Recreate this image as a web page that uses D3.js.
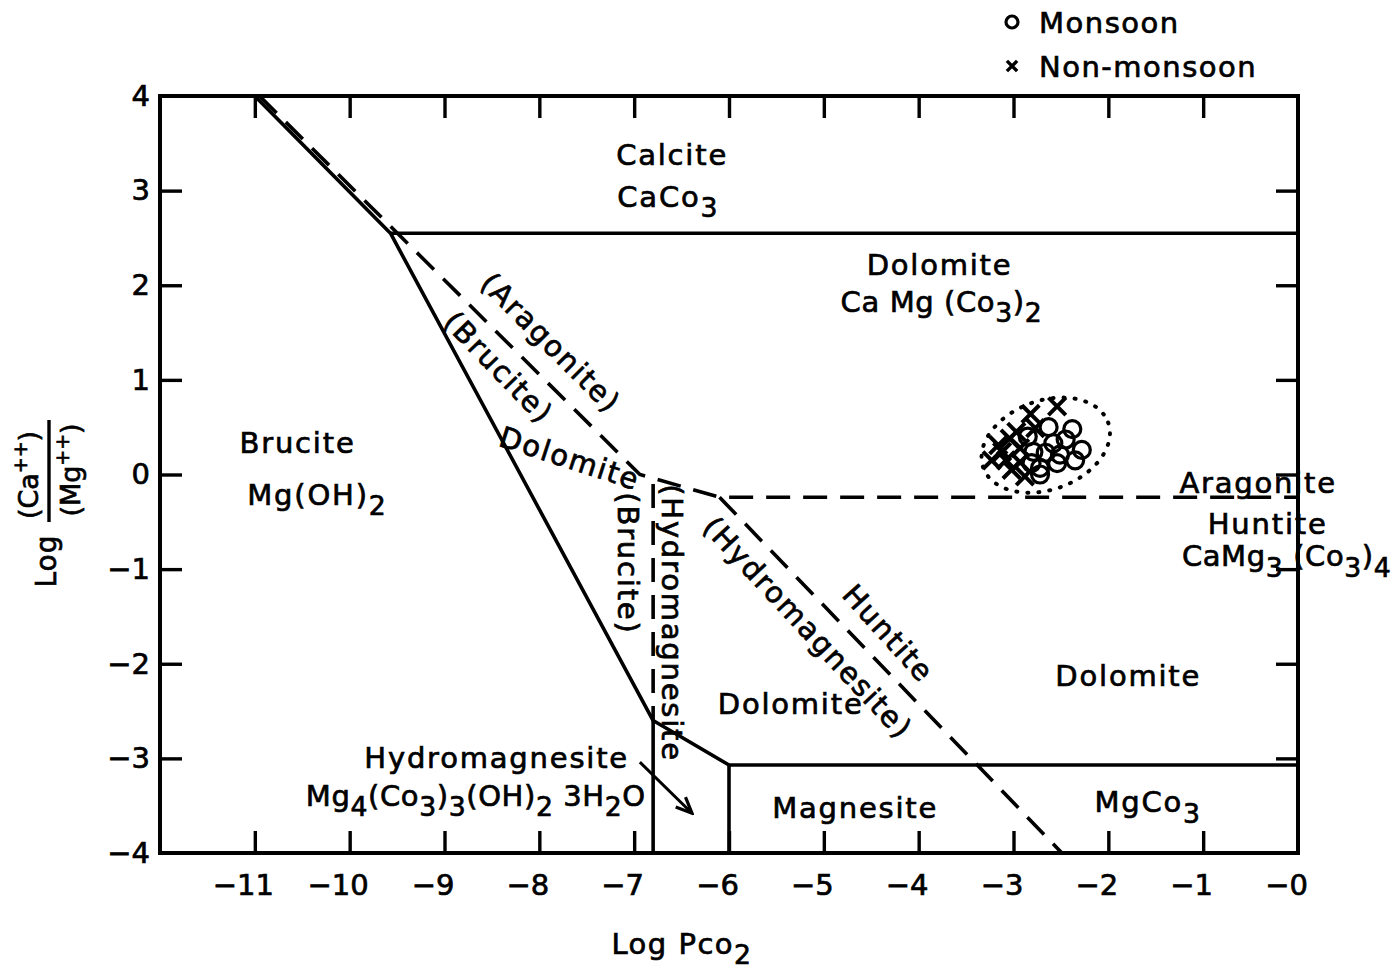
<!DOCTYPE html>
<html>
<head>
<meta charset="utf-8">
<script src="https://cdn.jsdelivr.net/npm/d3@7"></script>
<style>
  html, body { margin: 0; padding: 0; background: #fff; }
  svg text { font-family: "DejaVu Sans", sans-serif; fill: #000; stroke: #000; stroke-width: 0.7px; }
</style>
</head>
<body>
<svg id="chart" width="1398" height="971"></svg>
<script>
// ---- axis ticks ----
const xTicks = [-11, -10, -9, -8, -7, -6, -5, -4, -3, -2, -1, 0];
const xTickLabels = ["−11", "−10", "−9", "−8", "−7", "−6", "−5", "−4", "−3", "−2", "−1", "−0"];
const yTicks = [4, 3, 2, 1, 0, -1, -2, -3, -4];
const yTickLabels = ["4", "3", "2", "1", "0", "−1", "−2", "−3", "−4"];

// ---- stability field boundaries (Log Pco2, Log Ca/Mg) ----
const brucitePath = [[-11, 4], [-9.57, 2.55], [-6.8, -2.6], [-6.0, -3.07]];
const calciteDolomite = [[-9.57, 2.55], [0, 2.55]];
const dolomiteMagnesite = [[-6.0, -3.07], [0, -3.07]];
const hydromagnesiteEdge = [[-6.8, -2.6], [-6.8, -4]];
const magnesiteEdge = [[-6.0, -3.07], [-6.0, -4]];
const aragoniteDashed = [[-10.95, 4], [-6.94, 0.0], [-6.1, -0.24], [0, -0.24]];
const hydromagnesiteDashed = [[-6.8, -0.1], [-6.8, -2.6]];
const huntiteDashed = [[-6.1, -0.24], [-2.49, -4]];

// ---- samples ----
const monsoonX = [-2.63, -2.38, -2.85, -2.45, -2.58, -2.79, -2.66, -2.51, -2.28, -2.35, -2.81, -2.72, -2.54, -2.72];
const monsoonY = [0.50, 0.48, 0.40, 0.37, 0.33, 0.24, 0.23, 0.21, 0.26, 0.15, 0.12, 0.07, 0.12, 0.00];
const nonMonsoonX = [-2.54, -2.82, -2.77, -3.04, -3.16, -2.93, -3.23, -3.08, -2.93, -3.02, -2.88, -3.12, -2.97];
const nonMonsoonY = [0.72, 0.64, 0.49, 0.38, 0.31, 0.28, 0.15, 0.15, 0.13, 0.05, -0.02, 0.24, 0.45];

// envelope around the samples: centre, radii (data units), tilt
const envelopeCentre = [-2.66, 0.31];
const envelopeRadii = [0.7, 0.47];
const envelopeTilt = -20;

// ---- field labels: _{..} subscript, ^{..} superscript ----
const fieldLabels = [
  { text: "Calcite", at: [-6.60, 3.27] },
  { text: "CaCo_{3}", at: [-6.64, 2.83] },
  { text: "Dolomite", at: [-3.78, 2.11] },
  { text: "Ca Mg (Co_{3})_{2}", at: [-3.76, 1.72], tight: true },
  { text: "Brucite", at: [-10.55, 0.23] },
  { text: "Mg(OH)_{2}", at: [-10.34, -0.32] },
  { text: "(Aragonite)", at: [-7.88, 1.39], angle: 45, central: true },
  { text: "(Brucite)", at: [-8.43, 1.13], angle: 46, central: true },
  { text: "Dolomite", at: [-7.68, 0.17], angle: 18, central: true },
  { text: "(Brucite)", at: [-7.06, -0.94], angle: 90, central: true },
  { text: "(Hydromagnesite", at: [-6.60, -1.57], angle: 90, central: true },
  { text: "(Hydromagnesite)", at: [-5.17, -1.62], angle: 47, central: true },
  { text: "Huntite", at: [-4.32, -1.68], angle: 48, central: true },
  { text: "Dolomite", at: [-5.35, -2.53] },
  { text: "Dolomite", at: [-1.79, -2.24] },
  { text: "Hydromagnesite", at: [-8.45, -3.10] },
  { text: "Mg_{4}(Co_{3})_{3}(OH)_{2} 3H_{2}O", at: [-8.67, -3.50], tight: true },
  { text: "Magnesite", at: [-4.67, -3.63] },
  { text: "MgCo_{3}", at: [-1.58, -3.57] },
  { text: "Aragonite", at: [-0.42, -0.20] },
  { text: "Huntite", at: [-0.32, -0.63] },
  { text: "CaMg_{3} (Co_{3})_{4}", at: [-0.12, -0.97], tight: true }
];
const arrowFromTo = [[-6.94, -3.04], [-6.39, -3.58]];

const legendItems = ["Monsoon", "Non-monsoon"];

// ---- scales ----
const svg = d3.select("#chart");
const x = d3.scaleLinear().domain([-12, 0]).range([160, 1298]);
const y = d3.scaleLinear().domain([-4, 4]).range([853, 96]);
const line = d3.line().x(d => x(d[0])).y(d => y(d[1]));

const FONT = 29;
const LINE_W = 3.6;

function richText(sel, str, size) {
  const re = /_\{([^}]*)\}|\^\{([^}]*)\}|[^_^]+/g;
  let m, shift = 0;
  while ((m = re.exec(str)) !== null) {
    let t, target = 0, fs = size;
    if (m[1] !== undefined) { t = m[1]; target = size * 0.36; fs = size * 0.92; }
    else if (m[2] !== undefined) { t = m[2]; target = -size * 0.42; fs = size * 0.7; }
    else { t = m[0]; }
    sel.append("tspan").attr("dy", target - shift).attr("font-size", fs).text(t);
    shift = target;
  }
}

// ---- frame and ticks ----
svg.append("rect")
  .attr("x", x(-12)).attr("y", y(4))
  .attr("width", x(0) - x(-12)).attr("height", y(-4) - y(4))
  .attr("fill", "none").attr("stroke", "#000").attr("stroke-width", 4);

const tickLen = 22;
const axB = d3.axisBottom(x).tickValues(xTicks).tickSize(tickLen).tickFormat((d, i) => xTickLabels[i]);
const axT = d3.axisTop(x).tickValues(xTicks).tickSize(tickLen).tickFormat("");
const axL = d3.axisLeft(y).tickValues(yTicks).tickSize(tickLen).tickFormat((d, i) => yTickLabels[i]);
const axR = d3.axisRight(y).tickValues(yTicks).tickSize(tickLen).tickFormat("");

function styleAxis(g) {
  g.select(".domain").remove();
  g.selectAll(".tick line").attr("stroke", "#000").attr("stroke-width", 3.4);
  g.selectAll(".tick text").attr("font-size", 29).attr("font-family", "DejaVu Sans");
}
// ticks point inward
const gB = svg.append("g").attr("transform", `translate(0,${y(-4)})`).call(axB).call(styleAxis);
gB.selectAll(".tick line").attr("y2", -tickLen);
gB.selectAll(".tick text").attr("y", 21).attr("dy", "0.71em").attr("dx", -12);
const gT = svg.append("g").attr("transform", `translate(0,${y(4)})`).call(axT).call(styleAxis);
gT.selectAll(".tick line").attr("y2", tickLen);
const gL = svg.append("g").attr("transform", `translate(${x(-12)},0)`).call(axL).call(styleAxis);
gL.selectAll(".tick line").attr("x2", tickLen);
gL.selectAll(".tick text").attr("x", -10);
const gR = svg.append("g").attr("transform", `translate(${x(0)},0)`).call(axR).call(styleAxis);
gR.selectAll(".tick line").attr("x2", -tickLen);
gT.selectAll(".tick").filter(d => d === 0).remove();
gB.selectAll(".tick line").filter(d => d === 0).remove();
gL.selectAll(".tick line").filter(d => d === 4 || d === -4).remove();
gR.selectAll(".tick").filter(d => d === 4 || d === -4).remove();

// ---- boundaries ----
const solid = [brucitePath, calciteDolomite, dolomiteMagnesite, hydromagnesiteEdge, magnesiteEdge];
svg.append("g").selectAll("path").data(solid).join("path")
  .attr("d", line).attr("fill", "none").attr("stroke", "#000")
  .attr("stroke-width", LINE_W).attr("stroke-linejoin", "round");

const dashed = [aragoniteDashed, hydromagnesiteDashed, huntiteDashed];
svg.append("g").selectAll("path").data(dashed).join("path")
  .attr("d", line).attr("fill", "none").attr("stroke", "#000")
  .attr("stroke-width", LINE_W).attr("stroke-dasharray", "24,13");

// ---- arrow ----
svg.append("defs").append("marker")
  .attr("id", "head").attr("viewBox", "0 0 20 20").attr("refX", 18).attr("refY", 10)
  .attr("markerWidth", 20).attr("markerHeight", 20).attr("markerUnits", "userSpaceOnUse")
  .attr("orient", "auto")
  .append("path").attr("d", "M2,3 L18,10 L2,17").attr("fill", "none")
  .attr("stroke", "#000").attr("stroke-width", 3.2);
svg.append("path").attr("d", line(arrowFromTo)).attr("fill", "none")
  .attr("stroke", "#000").attr("stroke-width", 3).attr("marker-end", "url(#head)");

// ---- field labels ----
const labelG = svg.append("g");
fieldLabels.forEach(l => {
  const px = x(l.at[0]), py = y(l.at[1]);
  const t = labelG.append("text")
    .attr("transform", `translate(${px},${py}) rotate(${l.angle || 0})`)
    .attr("text-anchor", "middle")
    .attr("font-size", FONT)
    .attr("letter-spacing", l.tight ? 0.6 : 1.8);
  if (l.central) t.attr("dominant-baseline", "central");
  richText(t, l.text, FONT);
});

// ---- samples ----
const monsoon = monsoonX.map((v, i) => [v, monsoonY[i]]);
const nonMonsoon = nonMonsoonX.map((v, i) => [v, nonMonsoonY[i]]);
const crossPath = d3.symbol().type(d3.symbolX).size(200);

svg.append("g").selectAll("path").data(nonMonsoon).join("path")
  .attr("transform", d => `translate(${x(d[0])},${y(d[1])})`)
  .attr("d", crossPath).attr("fill", "none").attr("stroke", "#000").attr("stroke-width", 4);

svg.append("g").selectAll("circle").data(monsoon).join("circle")
  .attr("cx", d => x(d[0])).attr("cy", d => y(d[1])).attr("r", 8.5)
  .attr("fill", "none").attr("stroke", "#000").attr("stroke-width", 3.2);

// dotted envelope
svg.append("ellipse")
  .attr("transform", `translate(${x(envelopeCentre[0])},${y(envelopeCentre[1])}) rotate(${envelopeTilt})`)
  .attr("rx", x(envelopeRadii[0]) - x(0))
  .attr("ry", y(0) - y(envelopeRadii[1]))
  .attr("fill", "none").attr("stroke", "#000").attr("stroke-width", 4)
  .attr("stroke-linecap", "round").attr("stroke-dasharray", "1,10");

// ---- legend ----
const lg = svg.append("g").attr("transform", "translate(1012,22)");
lg.append("circle").attr("cx", 0).attr("cy", 0).attr("r", 6).attr("fill", "none")
  .attr("stroke", "#000").attr("stroke-width", 3.2);
lg.append("path").attr("transform", "translate(0,44)")
  .attr("d", d3.symbol().type(d3.symbolX).size(70)).attr("fill", "none")
  .attr("stroke", "#000").attr("stroke-width", 3.4);
lg.selectAll("text.leg").data(legendItems).join("text").attr("class", "leg")
  .attr("x", 27).attr("y", (d, i) => i * 44 + 11)
  .attr("font-size", FONT).attr("letter-spacing", 1.5).text(d => d);

// ---- axis titles ----
const xt = svg.append("text").attr("x", 682).attr("y", 954).attr("text-anchor", "middle")
  .attr("font-size", FONT).attr("letter-spacing", 1.5);
richText(xt, "Log  Pco_{2}", FONT);

const yt = svg.append("g").attr("transform", "rotate(-90)");
yt.append("text").attr("x", -561).attr("y", 56).attr("text-anchor", "middle")
  .attr("font-size", 28).attr("letter-spacing", 1).text("Log");
const num = yt.append("text").attr("x", -475).attr("y", 38).attr("text-anchor", "middle").attr("font-size", 27);
richText(num, "(Ca^{++})", 27);
yt.append("line").attr("x1", -522).attr("x2", -420).attr("y1", 49).attr("y2", 49)
  .attr("stroke", "#000").attr("stroke-width", 3.4);
const den = yt.append("text").attr("x", -470).attr("y", 80).attr("text-anchor", "middle").attr("font-size", 27);
richText(den, "(Mg^{++})", 27);
</script>
</body>
</html>
